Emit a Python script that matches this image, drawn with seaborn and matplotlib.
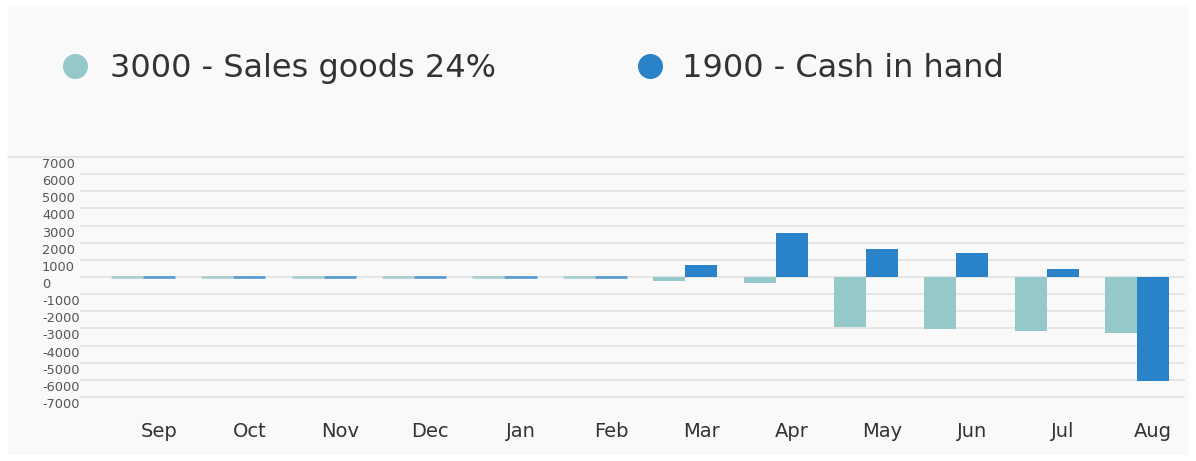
import numpy as np
import pandas as pd
import matplotlib
matplotlib.use("Agg")
import matplotlib.pyplot as plt
import matplotlib.transforms as mtransforms
from matplotlib.lines import Line2D
from matplotlib.patches import Rectangle
import seaborn as sns

# ---- data ----
months = ["Sep", "Oct", "Nov", "Dec", "Jan", "Feb", "Mar", "Apr", "May", "Jun", "Jul", "Aug"]
sales_name = "3000 - Sales goods 24%"
cash_name = "1900 - Cash in hand"
sales_values = [0, 0, 0, 0, 0, 0, -220, -350, -2910, -3010, -3130, -3260]
cash_values = [0, 0, 0, 0, 0, 0, 720, 2580, 1630, 1400, 470, -6080]
y_ticks = list(range(-7000, 7001, 1000))

sales_color = "#95c9c9"
cash_color = "#2a82c8"
grid_color = "#e3e3e3"

W, H = 1196, 461
sns.set_theme(style="white")
plt.rcParams["font.family"] = ["DejaVu Sans"]

fig = plt.figure(figsize=(W / 100, H / 100), dpi=100, facecolor="white")
fig.add_artist(Rectangle((8 / W, 6 / H), (1189 - 8) / W, (455 - 6) / H,
                         transform=fig.transFigure, facecolor="#f9f9f9",
                         edgecolor="none", zorder=0))

ylim = 7100
px_per_unit = 240 / 14000
ax_h = 2 * ylim * px_per_unit
zero_px = 277
ax_bottom_px = zero_px + ylim * px_per_unit
ax = fig.add_axes([80 / W, (H - ax_bottom_px) / H, 1105 / W, ax_h / H])
ax.set_facecolor("none")

df = pd.DataFrame({
    "month": months * 2,
    "value": sales_values + cash_values,
    "series": [sales_name] * len(months) + [cash_name] * len(months),
})

sns.barplot(data=df, x="month", y="value", hue="series", order=months,
            hue_order=[sales_name, cash_name], palette=[sales_color, cash_color],
            width=0.71, saturation=1, errorbar=None, legend=False,
            linewidth=0, edgecolor="none", ax=ax)

# zero-valued bars shown as thin lines on the baseline
for p in ax.patches:
    if abs(p.get_height()) < 1:
        p.set_edgecolor(p.get_facecolor())
        p.set_linewidth(2.0)
        p.set_alpha(0.75)

ax.set_xlim(-0.697, 11.53)
ax.set_ylim(-ylim, ylim)
ax.set_yticks(y_ticks)
ax.yaxis.grid(True, color=grid_color, linewidth=1.3)
ax.xaxis.grid(False)
ax.set_axisbelow(True)
for s in ax.spines.values():
    s.set_visible(False)
ax.tick_params(axis="y", length=0, labelleft=False)
ax.set_xticks(np.arange(len(months)) + 0.1775, months)
ax.tick_params(axis="x", length=0, labelsize=14, labelcolor="#333333", pad=17)
ax.set_xlabel("")
ax.set_ylabel("")

trans = mtransforms.blended_transform_factory(fig.transFigure, ax.transData)
for v in y_ticks:
    ax.text(42 / W, v - 60, str(v), transform=trans, ha="left", va="top",
            fontsize=9.3, color="#555555", clip_on=False)

# divider line at top of chart area
fig.add_artist(Line2D([8 / W, 80 / W], [(H - 157) / H] * 2, color=grid_color,
                      linewidth=1.3, transform=fig.transFigure))

# legend
leg_y = (H - 66) / H
for cx, tx, col, name in [(75, 110, sales_color, sales_name), (650, 682, cash_color, cash_name)]:
    fig.add_artist(Line2D([cx / W], [leg_y], marker="o", markersize=17, linestyle="none",
                          markerfacecolor=col, markeredgecolor=col, transform=fig.transFigure))
    fig.text(tx / W, (H - 77) / H, name, fontsize=23, color="#333333", va="baseline", ha="left")

fig.savefig("out.png", dpi=100)
